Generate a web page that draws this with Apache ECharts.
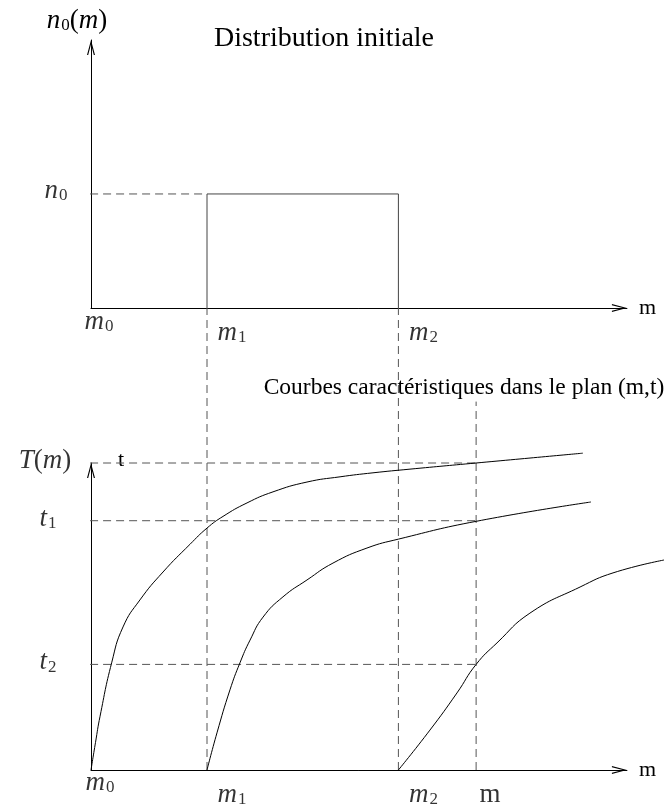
<!DOCTYPE html>
<html>
<head>
<meta charset="utf-8">
<script src="https://cdn.jsdelivr.net/npm/echarts@6/dist/echarts.min.js"></script>
<style>
  html, body { margin: 0; padding: 0; background: #fff; }
  #chart { width: 664px; height: 807px; }
</style>
</head>
<body>
<div id="chart"></div>
<script>
// Masses bounding the initial distribution
const massNames = ['m0', 'm1', 'm2'];
const massValues = [0, 1, 2.65];
// Mass "m" at which the characteristic times are read
const probeName = 'm';
const probeMass = 3.32;
// Height of the initial plateau n0
const plateauName = 'n0';
const plateauLevel = 1;
// Characteristic times read at the mass m
const timeNames = ['T(m)', 't1', 't2'];
const timeValues = [1, 0.812, 0.344];

// Characteristic curves (m, t) leaving from m0, m1 and m2
const curveFromM0 = [
  [0, 0], [0.039, 0.09], [0.078, 0.175], [0.178, 0.349], [0.276, 0.466],
  [0.422, 0.554], [0.621, 0.645], [0.853, 0.735], [1.0, 0.788], [1.138, 0.826],
  [1.345, 0.870], [1.569, 0.906], [1.862, 0.938], [2.147, 0.955], [2.431, 0.968],
  [2.75, 0.980], [3.32, 1.0], [4.24, 1.032]
];
const curveFromM1 = [
  [1, 0], [1.086, 0.121], [1.198, 0.261], [1.284, 0.349], [1.371, 0.423],
  [1.483, 0.498], [1.655, 0.564], [1.862, 0.619], [2.086, 0.674], [2.379, 0.723],
  [2.65, 0.752], [3.32, 0.81], [4.31, 0.873]
];
const curveFromM2 = [
  [2.65, 0], [2.922, 0.130], [3.155, 0.251], [3.32, 0.344], [3.5, 0.414],
  [3.784, 0.511], [4.216, 0.596], [4.5, 0.642], [4.94, 0.684]
];

// ---- layout & style ----
const PX_PER_M = 116;         // same mass scale in every panel
const M_MAX = 4.62;           // end of the drawn m axes
const M_PLANE_MAX = 4.94;     // curves continue to the right edge of the page
const N_MAX = 2.35;
const T_MAX = 1;
const LEADER_START = -0.12;   // dashed leaders start a little left of the axes
const PROBE_TOP = 1.2;        // the dashed line at m rises above the t axis
const INK = '#000';
const DASH = '#555';
const dashStyle = { color: DASH, width: 1, type: [8, 5] };
const serif = 'Liberation Serif';
// open arrow head drawn as a thin filled chevron
const chevron = 'path://M0,15L4,0L8,15L6.8,15L4,4.2L1.2,15Z';

const rich = {
  i: { fontFamily: serif, fontStyle: 'italic', fontSize: 27, color: INK },
  s: { fontFamily: serif, fontSize: 17, color: INK, verticalAlign: 'bottom', padding: [10, 0, 0, 1] },
  r: { fontFamily: serif, fontSize: 27, color: INK }
};
// 'm1' -> italic m with subscript 1 ; 'T(m)' -> italic T and m with roman parentheses
function mathText(name) {
  const k = name.indexOf('(');
  if (k >= 0) {
    return mathText(name.slice(0, k)) + '{r|(}{i|' + name.slice(k + 1, -1) + '}{r|)}';
  }
  return name.length > 1 ? '{i|' + name[0] + '}{s|' + name.slice(1) + '}' : '{i|' + name + '}';
}

function axisLineStyle() {
  return {
    show: true,
    onZero: false,
    symbol: ['none', chevron],
    symbolSize: [8, 15],
    symbolOffset: [0, -7.5],
    lineStyle: { color: INK, width: 1 }
  };
}
const hidden = { axisLine: { show: false }, axisTick: { show: false }, axisLabel: { show: false }, splitLine: { show: false } };

function xAxisFor(gridIndex, named, max) {
  return Object.assign({
    type: 'value', gridIndex, min: 0, max,
    name: named ? 'm' : '', nameLocation: 'end', nameGap: 12,
    nameTextStyle: { fontFamily: serif, fontSize: 22, color: INK, verticalAlign: 'middle' }
  }, hidden, named ? { axisLine: axisLineStyle() } : {});
}

const labelSeries = (gridIndex, items) => ({
  type: 'scatter', xAxisIndex: gridIndex, yAxisIndex: gridIndex,
  symbolSize: 0, silent: true, z: 10,
  label: { show: true, position: 'inside', rich },
  data: items
});

const lineSeries = (gridIndex, data, style, extra) => Object.assign({
  type: 'line', xAxisIndex: gridIndex, yAxisIndex: gridIndex,
  data, symbol: 'none', clip: false, silent: true,
  lineStyle: style
}, extra || {});

const curveStyle = { color: INK, width: 1 };
const [m0, m1, m2] = massValues;

const option = {
  animation: false,
  backgroundColor: '#fff',
  title: [
    {
      text: 'Distribution initiale', left: 319, top: 20, textAlign: 'center',
      textStyle: { fontFamily: serif, fontSize: 28, fontWeight: 'normal', color: INK }
    },
    {
      text: 'Courbes caractéristiques dans le plan (m,t)', left: 459, top: 371, textAlign: 'center',
      textStyle: { fontFamily: serif, fontSize: 23.5, fontWeight: 'normal', color: INK }
    }
  ],
  grid: [
    { left: 91, top: 40, width: M_MAX * PX_PER_M, height: 268, outerBoundsMode: 'none' },         // n0(m)
    { left: 91, top: 463, width: M_MAX * PX_PER_M, height: 307, outerBoundsMode: 'none' },        // (m,t) plane axes
    { left: 91, top: 308, width: M_MAX * PX_PER_M, height: 462, outerBoundsMode: 'none' },        // band linking both axes
    { left: 91, top: 463, width: M_PLANE_MAX * PX_PER_M, height: 307, outerBoundsMode: 'none' }   // (m,t) plane, curves
  ],
  xAxis: [
    xAxisFor(0, true, M_MAX), xAxisFor(1, true, M_MAX),
    xAxisFor(2, false, M_MAX), xAxisFor(3, false, M_PLANE_MAX)
  ],
  yAxis: [
    Object.assign({
      type: 'value', gridIndex: 0, min: 0, max: N_MAX,
      name: mathText('n0(m)'), nameLocation: 'end', nameGap: 6,
      nameTextStyle: { rich, padding: [0, 28, 0, 0] }
    }, hidden, { axisLine: axisLineStyle() }),
    Object.assign({
      type: 'value', gridIndex: 1, min: 0, max: T_MAX,
      name: 't', nameLocation: 'end', nameGap: -8,
      nameTextStyle: { fontFamily: serif, fontSize: 22, color: INK, padding: [0, 0, 0, 60] }
    }, hidden, { axisLine: axisLineStyle() }),
    Object.assign({ type: 'value', gridIndex: 2, min: 0, max: 1 }, hidden),
    Object.assign({ type: 'value', gridIndex: 3, min: 0, max: T_MAX }, hidden)
  ],
  series: [
    // initial distribution: plateau n0 between m1 and m2
    lineSeries(0, [[m1, 0], [m1, plateauLevel], [m2, plateauLevel], [m2, 0]], { color: '#444', width: 1 }),
    lineSeries(0, [[LEADER_START, plateauLevel], [m1, plateauLevel]], dashStyle),
    labelSeries(0, [
      ...massNames.map((name, i) => ({
        value: [massValues[i], 0],
        label: { formatter: mathText(name), offset: i === 0 ? [8, 14] : [25, 25] }
      })),
      {
        value: [0, plateauLevel],
        label: { formatter: mathText(plateauName), offset: [-35, -3] }
      }
    ]),

    // dashed verticals from m1 and m2 down to the (m,t) plane
    lineSeries(2, [[m1, 0], [m1, 1]], dashStyle),
    lineSeries(2, [[m2, 0], [m2, 1]], dashStyle),

    // characteristic curves
    lineSeries(3, curveFromM0, curveStyle, { smooth: 0.5, z: 5 }),
    lineSeries(3, curveFromM1, curveStyle, { smooth: 0.5, z: 5 }),
    lineSeries(3, curveFromM2, curveStyle, { smooth: 0.5, z: 5 }),

    // times read at the mass m
    ...timeValues.map(t => lineSeries(1, [[LEADER_START, t], [probeMass, t]], dashStyle)),
    lineSeries(1, [[probeMass, 0], [probeMass, PROBE_TOP]], dashStyle),

    labelSeries(1, [
      ...massNames.map((name, i) => ({
        value: [massValues[i], 0],
        label: { formatter: mathText(name), offset: i === 0 ? [9, 13] : [25, 25] }
      })),
      {
        value: [probeMass, 0],
        label: { formatter: '{r|' + probeName + '}', offset: [14, 25] }
      },
      ...timeNames.map((name, i) => ({
        value: [0, timeValues[i]],
        label: { formatter: mathText(name), offset: [name.length > 2 ? -46 : -43, -2] }
      }))
    ])
  ]
};

const chart = echarts.init(document.getElementById('chart'), null, { renderer: 'canvas' });
chart.setOption(option);
</script>
</body>
</html>
